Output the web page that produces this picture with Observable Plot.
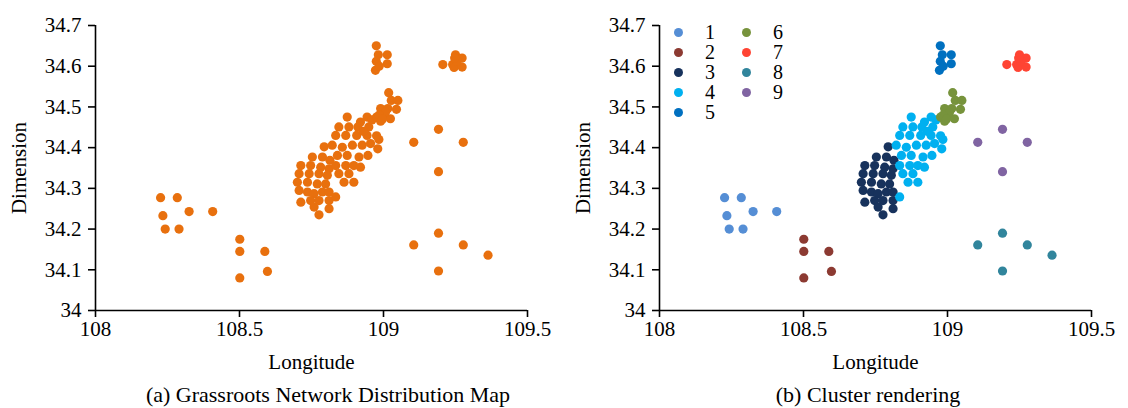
<!DOCTYPE html>
<html>
<head>
<meta charset="utf-8">
<script src="https://cdn.jsdelivr.net/npm/d3@7"></script>
<script src="https://cdn.jsdelivr.net/npm/@observablehq/plot@0.6"></script>
<style>
  body { margin: 0; background: #fff; }
  #wrap { position: relative; width: 1128px; height: 408px; overflow: hidden;
          font-family: "Liberation Serif", "Times New Roman", serif; color: #000; background: #fff; }
  .panel { position: absolute; top: 0; }
  .panel svg, .panel svg text { font-family: "Liberation Serif", "Times New Roman", serif !important; }
  .cap { position: absolute; top: 384px; font-size: 22px; line-height: 22px; white-space: nowrap; transform: translateX(-50%); }
  #legend { position: absolute; left: 674px; top: 22px; display: grid; grid-template-rows: repeat(5, 20.2px);
            grid-auto-flow: column; grid-template-columns: 68px 60px; font-size: 20px; }
  #legend .item { display: flex; align-items: center; height: 20.2px; line-height: 19px; }
  #legend .sw { width: 9px; height: 9px; border-radius: 50%; margin-right: 22px; flex: none; }
  #legend .lab { display: inline-block; height: 19px; line-height: 19px; overflow: visible; }
</style>
</head>
<body>
<div id="wrap"></div>
<script>
// ---- data ----
const xTicks = [108, 108.5, 109, 109.5];
const xTickLabels = ["108", "108.5", "109", "109.5"];
const yTicks = [34, 34.1, 34.2, 34.3, 34.4, 34.5, 34.6, 34.7];
const yTickLabels = ["34", "34.1", "34.2", "34.3", "34.4", "34.5", "34.6", "34.7"];
const xTitle = "Longitude";
const yTitle = "Dimension";
const captions = ["(a) Grassroots Network Distribution Map", "(b) Cluster rendering"];
const clusterLabels = ["1", "2", "3", "4", "5", "6", "7", "8", "9"];
const clusterColors = ["#558ED5", "#8C3A32", "#17325C", "#00B0F0", "#0070C0", "#77933C", "#FF4433", "#31859C", "#8064A2"];
const orange = "#E8700E";

// [longitude, latitude] per cluster
const cluster1 = [[108.226,34.277],[108.284,34.277],[108.234,34.233],[108.325,34.243],[108.407,34.243],[108.242,34.200],[108.290,34.200]];
const cluster2 = [[108.501,34.175],[108.501,34.145],[108.588,34.145],[108.597,34.096],[108.501,34.080]];
const cluster3 = [[108.794,34.402],[108.753,34.377],[108.788,34.377],[108.814,34.369],[108.713,34.356],[108.747,34.356],[108.782,34.352],[108.811,34.348],[108.707,34.336],[108.742,34.336],[108.776,34.336],[108.805,34.332],[108.701,34.315],[108.736,34.315],[108.770,34.311],[108.799,34.311],[108.707,34.295],[108.736,34.291],[108.759,34.287],[108.788,34.291],[108.811,34.291],[108.713,34.266],[108.747,34.270],[108.776,34.270],[108.811,34.270],[108.759,34.254],[108.776,34.235],[108.811,34.250]];
const cluster4 = [[108.874,34.475],[108.943,34.475],[108.920,34.463],[108.845,34.451],[108.880,34.451],[108.911,34.451],[108.949,34.451],[108.834,34.430],[108.869,34.430],[108.907,34.430],[108.943,34.430],[108.976,34.429],[108.822,34.406],[108.857,34.401],[108.892,34.406],[108.926,34.406],[108.955,34.410],[108.984,34.420],[108.840,34.381],[108.874,34.381],[108.915,34.377],[108.946,34.381],[108.980,34.397],[108.834,34.356],[108.869,34.356],[108.897,34.356],[108.920,34.352],[108.845,34.336],[108.880,34.336],[108.863,34.315],[108.897,34.315],[108.834,34.279],[108.960,34.468],[108.930,34.440]];
const cluster5 = [[108.975,34.650],[108.982,34.628],[109.013,34.628],[108.975,34.612],[109.013,34.606],[108.972,34.590],[108.985,34.600]];
const cluster6 = [[109.018,34.535],[109.027,34.516],[109.050,34.516],[108.990,34.496],[109.015,34.496],[109.045,34.494],[108.976,34.475],[109.001,34.479],[109.024,34.471],[108.990,34.465],[109.007,34.487],[108.985,34.480],[108.996,34.470]];
const cluster7 = [[109.206,34.604],[109.250,34.628],[109.273,34.620],[109.240,34.604],[109.245,34.597],[109.273,34.598],[109.256,34.612],[109.247,34.620]];
const cluster8 = [[109.191,34.190],[109.105,34.161],[109.277,34.161],[109.363,34.136],[109.191,34.097]];
const cluster9 = [[109.191,34.445],[109.105,34.413],[109.277,34.413],[109.191,34.341]];

const clusters = [cluster1, cluster2, cluster3, cluster4, cluster5, cluster6, cluster7, cluster8, cluster9];
const points = clusters.flatMap((pts, i) => pts.map(([lon, lat]) => ({lon, lat, cluster: clusterLabels[i]})));

// ---- drawing ----
const FONT = '"Liberation Serif", "Times New Roman", serif';
function panel(colored) {
  return Plot.plot({
    width: 564, height: 380,
    marginLeft: 95, marginRight: 37, marginTop: 25, marginBottom: 70,
    x: {domain: [108, 109.5]},
    y: {domain: [34, 34.7]},
    color: {type: "ordinal", domain: clusterLabels, range: clusterColors},
    style: {fontFamily: FONT, fontSize: "21px", color: "#000", background: "white", overflow: "visible"},
    marks: [
      Plot.dot(points, {x: "lon", y: "lat", r: 4.6, fill: colored ? "cluster" : orange, stroke: "none"}),
      Plot.ruleX([108], {stroke: "#000", strokeWidth: 1.6}),
      Plot.ruleY([34], {stroke: "#000", strokeWidth: 1.6}),
      Plot.axisX({ticks: xTicks, tickFormat: d => xTickLabels[xTicks.indexOf(d)], tickSize: 7, tickPadding: 4,
                  strokeWidth: 1.6, fontSize: 21, fontFamily: FONT, label: xTitle, labelAnchor: "center", labelArrow: false, labelOffset: 58}),
      Plot.axisY({ticks: yTicks, tickFormat: d => yTickLabels[yTicks.indexOf(d)], tickSize: 7, tickPadding: 7,
                  strokeWidth: 1.6, fontSize: 21, fontFamily: FONT, label: yTitle, labelAnchor: "center", labelArrow: false, labelOffset: 84})
    ]
  });
}

const wrap = document.getElementById("wrap");
[false, true].forEach((colored, i) => {
  const div = document.createElement("div");
  div.className = "panel";
  div.style.left = (i * 564) + "px";
  div.appendChild(panel(colored));
  wrap.appendChild(div);
  const cap = document.createElement("div");
  cap.className = "cap";
  cap.style.left = (i === 0 ? 328 : 868) + "px";
  cap.textContent = captions[i];
  wrap.appendChild(cap);
});

const legend = document.createElement("div");
legend.id = "legend";
clusterLabels.forEach((lab, i) => {
  const item = document.createElement("div");
  item.className = "item";
  const sw = document.createElement("span");
  sw.className = "sw";
  sw.style.background = clusterColors[i];
  const t = document.createElement("span");
  t.className = "lab";
  t.textContent = lab;
  item.appendChild(sw);
  item.appendChild(t);
  legend.appendChild(item);
});
wrap.appendChild(legend);
</script>
</body>
</html>
